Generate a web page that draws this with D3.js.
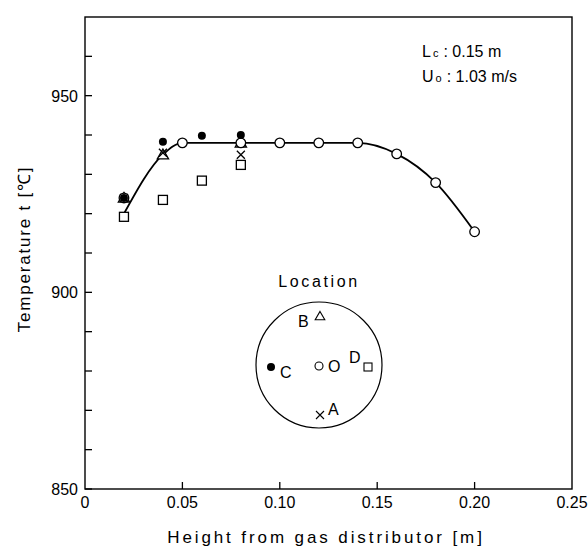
<!DOCTYPE html>
<html>
<head>
<meta charset="utf-8">
<title>Temperature profile</title>
<script src="https://d3js.org/d3.v7.min.js"></script>
<style>
  body { margin: 0; background: #fff; }
  text { font-family: "Liberation Sans", Arial, sans-serif; fill: #000; }
</style>
</head>
<body>
<script>
// values
var xTicks = [0, 0.05, 0.10, 0.15, 0.20, 0.25];
var yLabels = [850, 900, 950];
var yMinor = [850, 860, 870, 880, 890, 900, 910, 920, 930, 940, 950, 960];

// location O (open circles) and fitted curve
var pointsO = [[0.02, 924], [0.05, 938], [0.08, 938], [0.10, 938], [0.12, 938], [0.14, 938], [0.16, 935.2], [0.18, 927.9], [0.20, 915.4]];
var curveO = [[0.02, 920], [0.04, 935], [0.05, 938], [0.08, 938], [0.10, 938], [0.12, 938], [0.14, 938], [0.16, 935.2], [0.18, 927.9], [0.20, 915.4]];
// location A (x), B (triangle), C (filled dot), D (square)
var pointsA = [[0.02, 924], [0.04, 935.5], [0.08, 935]];
var pointsB = [[0.02, 924], [0.04, 935], [0.08, 938]];
var pointsC = [[0.02, 924], [0.04, 938.3], [0.06, 939.8], [0.08, 940]];
var pointsD = [[0.02, 919.2], [0.04, 923.5], [0.06, 928.4], [0.08, 932.4]];

var width = 588, height = 547;
var svg = d3.select("body").append("svg")
    .attr("width", width)
    .attr("height", height);

var x = d3.scaleLinear().domain([0, 0.25]).range([85, 572]);
var y = d3.scaleLinear().domain([850, 970]).range([489, 17]);

// frame
svg.append("rect")
    .attr("x", x(0)).attr("y", y(970))
    .attr("width", x(0.25) - x(0)).attr("height", y(850) - y(970))
    .attr("fill", "none").attr("stroke", "#000").attr("stroke-width", 1.4);

// y ticks inward
svg.selectAll(".ytick").data(yMinor).enter().append("line")
    .attr("x1", x(0)).attr("x2", x(0) + 7)
    .attr("y1", function(d){ return y(d); })
    .attr("y2", function(d){ return y(d); })
    .attr("stroke", "#000").attr("stroke-width", 1.3);

svg.selectAll(".ylab").data(yLabels).enter().append("text")
    .attr("x", x(0) - 7)
    .attr("y", function(d){ return y(d) + 6; })
    .attr("text-anchor", "end")
    .attr("font-size", 16)
    .text(function(d){ return d; });

// x ticks inward
svg.selectAll(".xtick").data(xTicks.slice(1, 5)).enter().append("line")
    .attr("x1", function(d){ return x(d); })
    .attr("x2", function(d){ return x(d); })
    .attr("y1", y(850)).attr("y2", y(850) - 7)
    .attr("stroke", "#000").attr("stroke-width", 1.3);

svg.selectAll(".xlab").data(xTicks).enter().append("text")
    .attr("x", function(d){ return x(d); })
    .attr("y", 508)
    .attr("text-anchor", "middle")
    .attr("font-size", 16)
    .text(function(d){ return d === 0 ? "0" : d3.format(".2f")(d); });

// axis titles
svg.append("text")
    .attr("x", 326).attr("y", 543)
    .attr("text-anchor", "middle")
    .attr("font-size", 17)
    .attr("letter-spacing", 2.9)
    .text("Height from gas distributor [m]");

svg.append("text")
    .attr("transform", "translate(30,249) rotate(-90)")
    .attr("text-anchor", "middle")
    .attr("font-size", 17)
    .attr("letter-spacing", 1.8)
    .text("Temperature t [\u2103]");

// fitted curve
var line = d3.line()
    .x(function(d){ return x(d[0]); })
    .y(function(d){ return y(d[1]); })
    .curve(d3.curveMonotoneX);

svg.append("path").datum(curveO)
    .attr("d", line)
    .attr("fill", "none").attr("stroke", "#000").attr("stroke-width", 1.8);

// squares D
svg.selectAll(".ptD").data(pointsD).enter().append("rect")
    .attr("x", function(d){ return x(d[0]) - 4.5; })
    .attr("y", function(d){ return y(d[1]) - 4.5; })
    .attr("width", 9).attr("height", 9)
    .attr("fill", "#fff").attr("stroke", "#000").attr("stroke-width", 1.3);

// triangles B
var tri = d3.symbol().type(d3.symbolTriangle).size(55);
svg.selectAll(".ptB").data(pointsB).enter().append("path")
    .attr("d", tri)
    .attr("transform", function(d){ return "translate(" + x(d[0]) + "," + (y(d[1]) + 1) + ")"; })
    .attr("fill", "#fff").attr("stroke", "#000").attr("stroke-width", 1.3);

// crosses A
svg.selectAll(".ptA").data(pointsA).enter().append("path")
    .attr("d", "M-4,-4L4,4M-4,4L4,-4")
    .attr("transform", function(d){ return "translate(" + x(d[0]) + "," + y(d[1]) + ")"; })
    .attr("fill", "none").attr("stroke", "#000").attr("stroke-width", 1.3);

// open circles O
svg.selectAll(".ptO").data(pointsO).enter().append("circle")
    .attr("cx", function(d){ return x(d[0]); })
    .attr("cy", function(d){ return y(d[1]); })
    .attr("r", 4.8)
    .attr("fill", "#fff").attr("stroke", "#000").attr("stroke-width", 1.3);

// filled dots C
svg.selectAll(".ptC").data(pointsC).enter().append("circle")
    .attr("cx", function(d){ return x(d[0]); })
    .attr("cy", function(d){ return y(d[1]); })
    .attr("r", 4)
    .attr("fill", "#000");

// conditions
var cond = svg.append("g").attr("font-size", 16);
var t1 = cond.append("text").attr("x", 422).attr("y", 57);
t1.append("tspan").text("L");
t1.append("tspan").attr("font-size", 11).attr("dx", 2).text("c");
t1.append("tspan").attr("dx", 5).text(": 0.15 m");
var t2 = cond.append("text").attr("x", 422).attr("y", 82);
t2.append("tspan").text("U");
t2.append("tspan").attr("font-size", 11).attr("dx", 2).text("o");
t2.append("tspan").attr("dx", 5).text(": 1.03 m/s");

// location inset
var cx = 319, cy = 365;
svg.append("text")
    .attr("x", cx).attr("y", 287)
    .attr("text-anchor", "middle")
    .attr("font-size", 16)
    .attr("letter-spacing", 2.6)
    .text("Location");
svg.append("circle")
    .attr("cx", cx).attr("cy", cy).attr("r", 63)
    .attr("fill", "none").attr("stroke", "#000").attr("stroke-width", 1.2);

var g = svg.append("g").attr("transform", "translate(" + cx + "," + cy + ")");
g.append("path").attr("d", d3.symbol().type(d3.symbolTriangle).size(40))
    .attr("transform", "translate(1,-48)")
    .attr("fill", "#fff").attr("stroke", "#000").attr("stroke-width", 1.1);
g.append("text").attr("x", -21).attr("y", -38).attr("font-size", 16).text("B");
g.append("circle").attr("cx", -48).attr("cy", 2).attr("r", 4).attr("fill", "#000");
g.append("text").attr("x", -39).attr("y", 13).attr("font-size", 16).text("C");
g.append("circle").attr("cx", 0).attr("cy", 1).attr("r", 4)
    .attr("fill", "#fff").attr("stroke", "#000").attr("stroke-width", 1.1);
g.append("text").attr("x", 9).attr("y", 7).attr("font-size", 16).text("O");
g.append("text").attr("x", 30).attr("y", -2).attr("font-size", 16).text("D");
g.append("rect").attr("x", 45).attr("y", -2).attr("width", 8).attr("height", 8)
    .attr("fill", "#fff").attr("stroke", "#000").attr("stroke-width", 1.1);
g.append("path").attr("d", "M-4,-4L4,4M-4,4L4,-4")
    .attr("transform", "translate(1,50)")
    .attr("fill", "none").attr("stroke", "#000").attr("stroke-width", 1.1);
g.append("text").attr("x", 9).attr("y", 50).attr("font-size", 16).text("A");
</script>
</body>
</html>
